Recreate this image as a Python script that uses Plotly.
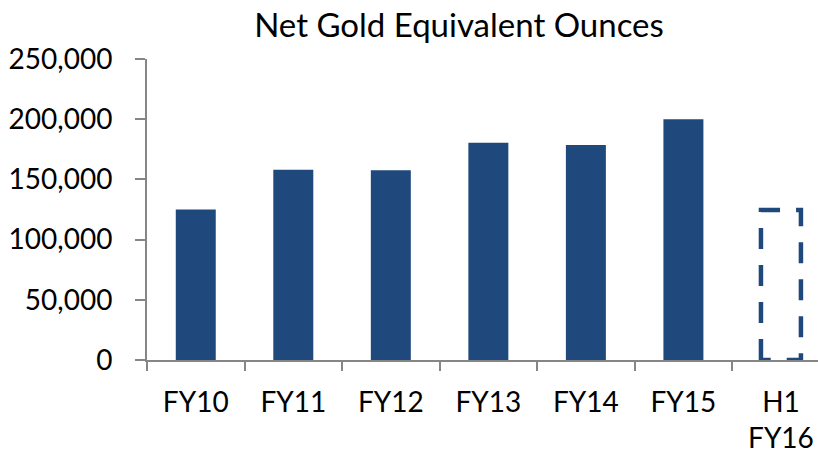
import plotly.graph_objects as go

categories = ["FY10", "FY11", "FY12", "FY13", "FY14", "FY15", "H1<br>FY16"]
values = [125000, 158000, 157500, 180500, 178500, 200000, None]
projected_label = "H1<br>FY16"
projected_value = 124500
y_ticks = [0, 50000, 100000, 150000, 200000, 250000]

BLUE = "#1f497d"
AXIS = "#868686"
FONT = "Lato"
bar_w = 0.41

fig = go.Figure()
fig.add_trace(go.Bar(x=categories, y=values, marker=dict(color=BLUE, line=dict(width=0)),
                     width=bar_w, showlegend=False, hoverinfo="skip"))

# dashed outline for projected bar, on an overlaid numeric axis
idx = categories.index(projected_label)
xs = [idx - bar_w / 2, idx - bar_w / 2, idx + bar_w / 2, idx + bar_w / 2, idx - bar_w / 2]
ys = [0, projected_value, projected_value, 0, 0]
fig.add_trace(go.Scatter(x=xs, y=ys, xaxis="x2", mode="lines",
                         line=dict(color=BLUE, width=4.5, dash="21px,16px"),
                         showlegend=False, hoverinfo="skip"))

xr = [-0.5, 6.38]
fig.update_layout(
    width=818, height=453,
    margin=dict(l=147, r=0, t=59, b=93, autoexpand=False),
    paper_bgcolor="white", plot_bgcolor="white",
    font=dict(family=FONT, size=28, color="#000000"),
    title=dict(text="Net Gold Equivalent Ounces", x=(250 + 668) / 2 / 818, xanchor="center",
               xref="container", y=1 - 25 / 453, yanchor="middle", yref="container",
               font=dict(family=FONT, size=33)),
    bargap=0.59,
    xaxis=dict(type="category", range=xr, showgrid=False, showline=True, linecolor=AXIS,
               linewidth=2, ticks="outside", tickson="boundaries", ticklen=9, tickwidth=2,
               tickcolor=AXIS, ticklabelstandoff=16, zeroline=False, automargin=False),
    xaxis2=dict(overlaying="x", range=xr, visible=False, showgrid=False, zeroline=False),
    yaxis=dict(range=[0, 250000], tickvals=y_ticks, tickformat=",d", showgrid=False,
               showline=True, linecolor=AXIS, linewidth=2, ticks="outside", ticklen=10,
               tickwidth=2, tickcolor=AXIS, ticklabelstandoff=17, zeroline=False,
               automargin=False),
)

fig.write_html("out.html", config={"displayModeBar": False},
               post_script="document.body.style.margin='0';document.body.style.overflow='hidden';")
